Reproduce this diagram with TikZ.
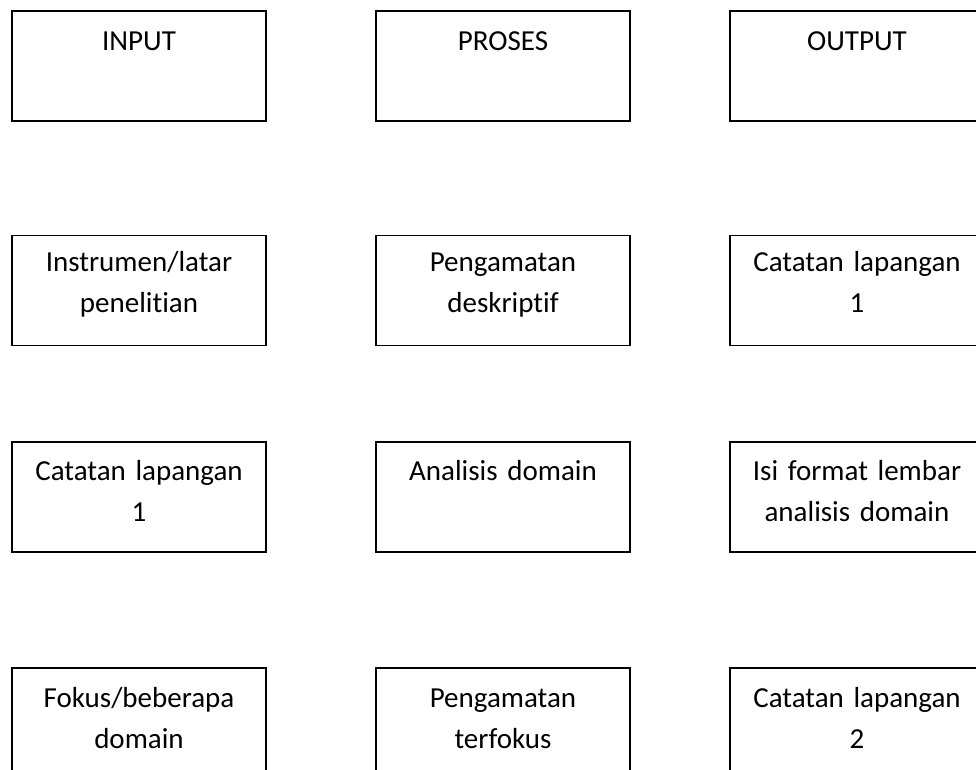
\documentclass[tikz,border=0pt]{standalone}
\usepackage{fontspec}
\setmainfont[Ligatures=NoCommon]{Carlito}
\tikzset{
  cell/.style={draw, line width=1.3pt, minimum width=254pt, minimum height=110pt, inner sep=0pt},
  txt/.style={anchor=base, text width=254pt, align=center, inner sep=0pt,
    font=\fontsize{29pt}{41pt}\selectfont},
}
\begin{document}
\begin{tikzpicture}[x=1pt,y=-1pt]
  \useasboundingbox (0,0) rectangle (976,769);
  \clip (0,0) rectangle (976,769);

  % Row 1: headings
  \node[cell] (input) at (139,66) {};
  \node[txt] (input-t) at ([yshift=-40pt]input.north) {INPUT};
  \node[cell] (proses) at (503,66) {};
  \node[txt] (proses-t) at ([yshift=-40pt]proses.north) {PROSES};
  \node[cell] (output) at (857,66) {};
  \node[txt] (output-t) at ([yshift=-40pt]output.north) {OUTPUT};

  % Row 2
  \node[cell] (instrumen) at (139,290.5) {};
  \node[txt] (instrumen-t) at ([yshift=-37pt]instrumen.north) {Instrumen/latar\\penelitian};
  \node[cell] (deskriptif) at (503,290.5) {};
  \node[txt] (deskriptif-t) at ([yshift=-37pt]deskriptif.north) {Pengamatan\\deskriptif};
  \node[cell] (catatan1) at (857,290.5) {};
  \node[txt] (catatan1-t) at ([yshift=-37pt]catatan1.north) {Catatan lapangan\\1};

  % Row 3
  \node[cell] (catatanin) at (139,497) {};
  \node[txt] (catatanin-t) at ([yshift=-39pt]catatanin.north) {Catatan lapangan\\1};
  \node[cell] (analisis) at (503,497) {};
  \node[txt] (analisis-t) at ([yshift=-39pt]analisis.north) {Analisis domain};
  \node[cell] (format) at (857,497) {};
  \node[txt] (format-t) at ([yshift=-39pt]format.north) {Isi format lembar\\analisis domain};

  % Row 4 (cut off below)
  \node[cell] (fokus) at (139,723) {};
  \node[txt] (fokus-t) at ([yshift=-40pt]fokus.north) {Fokus/beberapa\\domain};
  \node[cell] (terfokus) at (503,723) {};
  \node[txt] (terfokus-t) at ([yshift=-40pt]terfokus.north) {Pengamatan\\terfokus};
  \node[cell] (catatan2) at (857,723) {};
  \node[txt] (catatan2-t) at ([yshift=-40pt]catatan2.north) {Catatan lapangan\\2};
\end{tikzpicture}
\end{document}
